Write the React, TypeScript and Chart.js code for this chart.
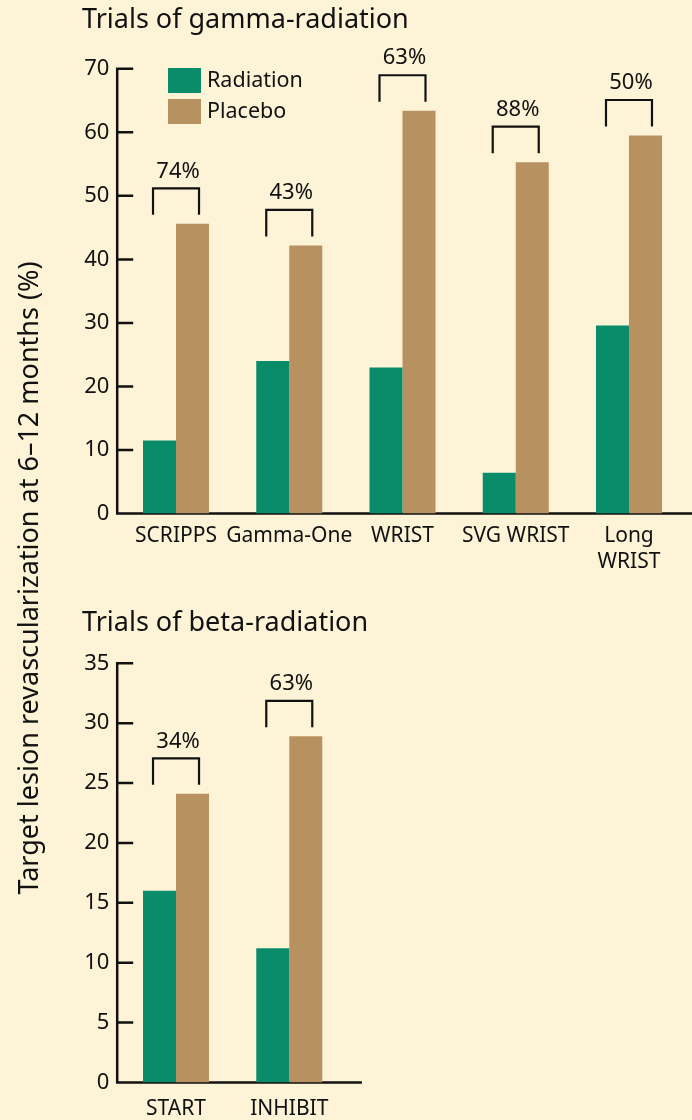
import React, { useEffect, useRef } from "react";
import { Chart, registerables } from "chart.js";

Chart.register(...registerables);

const BG = "#fdf4d8";
const GREEN = "#0a8b6a";
const TAN = "#b79160";
const INK = "#111111";
const FONT = "'Noto Sans', 'Open Sans', sans-serif";

// ---- Gamma-radiation trials ----
const gammaTrials = ["SCRIPPS", "Gamma-One", "WRIST", "SVG WRIST", ["Long", "WRIST"]];
const gammaRadiation = [11.5, 24.0, 23.0, 6.4, 29.6];
const gammaPlacebo = [45.6, 42.2, 63.4, 55.3, 59.5];
const gammaReduction = ["74%", "43%", "63%", "88%", "50%"];
const gammaMax = 70;
const gammaStep = 10;

// ---- Beta-radiation trials ----
const betaTrials = ["START", "INHIBIT"];
const betaRadiation = [16.0, 11.2];
const betaPlacebo = [24.1, 28.9];
const betaReduction = ["34%", "63%"];
const betaMax = 35;
const betaStep = 5;

const seriesNames = ["Radiation", "Placebo"];
const yTitle = "Target lesion revascularization at 6–12 months (%)";
const gammaTitle = "Trials of gamma-radiation";
const betaTitle = "Trials of beta-radiation";

type PanelCfg = {
  title: string;
  titleY: number;
  reduction: string[];
  baselineExtra: number;
  legend: boolean;
};

function makeDecor(cfg: PanelCfg) {
  return {
    id: "decor",
    beforeDatasetsDraw(chart: any) {
      const ctx = chart.ctx as CanvasRenderingContext2D;
      const { right, bottom, left } = chart.chartArea;
      const y = chart.scales.y;
      const ax = left - 2.2;
      ctx.save();
      ctx.strokeStyle = INK;
      ctx.lineWidth = 2.5;
      ctx.lineCap = "butt";
      ctx.beginPath();
      ctx.moveTo(ax, y.getPixelForValue(y.max) - 1.25);
      ctx.lineTo(ax, bottom + 1.25);
      y.ticks.forEach((t: any) => {
        const py = y.getPixelForValue(t.value);
        ctx.moveTo(ax, py);
        ctx.lineTo(ax + 16, py);
      });
      ctx.moveTo(ax - 1.25, bottom);
      ctx.lineTo(right + cfg.baselineExtra, bottom);
      ctx.stroke();
      ctx.restore();
    },
    afterDatasetsDraw(chart: any) {
      const ctx = chart.ctx as CanvasRenderingContext2D;
      const x = chart.scales.x;
      const y = chart.scales.y;
      const placebo = chart.data.datasets[1].data as number[];
      ctx.save();
      ctx.strokeStyle = INK;
      ctx.fillStyle = INK;
      ctx.lineWidth = 2.2;
      ctx.font = `22px ${FONT}`;
      ctx.textAlign = "center";
      ctx.textBaseline = "middle";
      placebo.forEach((v, i) => {
        const cx = x.getPixelForValue(i);
        const top = y.getPixelForValue(v);
        const by = top - 35.5;
        const ly = top - 9;
        ctx.beginPath();
        ctx.moveTo(cx - 23, ly);
        ctx.lineTo(cx - 23, by);
        ctx.lineTo(cx + 23, by);
        ctx.lineTo(cx + 23, ly);
        ctx.stroke();
        ctx.fillText(cfg.reduction[i], cx + 2, by - 17);
      });
      // title
      ctx.textAlign = "left";
      ctx.textBaseline = "alphabetic";
      ctx.font = `27px ${FONT}`;
      ctx.fillText(cfg.title, 82, cfg.titleY);
      // legend
      if (cfg.legend) {
        ctx.fillStyle = GREEN;
        ctx.fillRect(168, 68, 33, 25);
        ctx.fillStyle = TAN;
        ctx.fillRect(168, 99, 33, 25);
        ctx.fillStyle = INK;
        ctx.font = `21.5px ${FONT}`;
        ctx.textBaseline = "middle";
        ctx.fillText(seriesNames[0], 207, 81);
        ctx.fillText(seriesNames[1], 207, 111.5);
      }
      ctx.restore();
    },
  };
}

function makeChart(
  canvas: HTMLCanvasElement,
  labels: any[],
  rad: number[],
  pla: number[],
  max: number,
  step: number,
  layout: { top: number; right: number; xHeight: number; xPad: number },
  cfg: PanelCfg
) {
  return new Chart(canvas, {
    type: "bar",
    data: {
      labels,
      datasets: [
        { label: seriesNames[0], data: rad, backgroundColor: GREEN, borderWidth: 0, barPercentage: 1, categoryPercentage: 0.583 },
        { label: seriesNames[1], data: pla, backgroundColor: TAN, borderWidth: 0, barPercentage: 1, categoryPercentage: 0.583 },
      ],
    },
    options: {
      responsive: false,
      animation: false,
      layout: { padding: { top: layout.top, right: layout.right, left: 0, bottom: 0 } },
      plugins: {
        legend: { display: false },
        tooltip: { enabled: false },
        title: { display: false },
      },
      scales: {
        x: {
          grid: { display: false, drawTicks: false },
          border: { display: false },
          ticks: {
            font: { family: FONT, size: 21, lineHeight: 1.25 },
            color: INK,
            padding: layout.xPad,
            maxRotation: 0,
            minRotation: 0,
            autoSkip: false,
          },
          afterFit: (s: any) => {
            s.height = layout.xHeight;
          },
        },
        y: {
          min: 0,
          max,
          ticks: { stepSize: step, font: { family: FONT, size: 22 }, color: INK, padding: 10 },
          grid: { display: false, drawTicks: false },
          border: { display: false },
          afterFit: (s: any) => {
            s.width = 119.4;
          },
        },
      },
    },
    plugins: [makeDecor(cfg)],
  } as any);
}

export default function App() {
  const topRef = useRef<HTMLCanvasElement>(null);
  const botRef = useRef<HTMLCanvasElement>(null);

  useEffect(() => {
    const c1 = makeChart(
      topRef.current!,
      gammaTrials,
      gammaRadiation,
      gammaPlacebo,
      gammaMax,
      gammaStep,
      { top: 68.8, right: 6.4, xHeight: 590 - 513.5, xPad: 9 },
      { title: gammaTitle, titleY: 28, reduction: gammaReduction, baselineExtra: 10, legend: true }
    );
    const c2 = makeChart(
      botRef.current!,
      betaTrials,
      betaRadiation,
      betaPlacebo,
      betaMax,
      betaStep,
      { top: 73.3, right: 692 - 345.9, xHeight: 530 - 492.5, xPad: 13 },
      { title: betaTitle, titleY: 41, reduction: betaReduction, baselineExtra: 16, legend: false }
    );
    return () => {
      c1.destroy();
      c2.destroy();
    };
  }, []);

  return (
    <div style={{ position: "absolute", left: 0, top: 0, width: 692, height: 1120, background: BG, overflow: "hidden" }}>
      <canvas ref={topRef} width={692} height={590} style={{ position: "absolute", left: 0, top: 0, width: 692, height: 590 }} />
      <canvas ref={botRef} width={692} height={530} style={{ position: "absolute", left: 0, top: 590, width: 692, height: 530 }} />
      <div
        style={{
          position: "absolute",
          left: 28 - 450,
          top: 578 - 16,
          width: 900,
          height: 32,
          lineHeight: "32px",
          textAlign: "center",
          transform: "rotate(-90deg)",
          fontFamily: FONT,
          fontSize: 27,
          color: INK,
          whiteSpace: "nowrap",
        }}
      >
        {yTitle}
      </div>
    </div>
  );
}
